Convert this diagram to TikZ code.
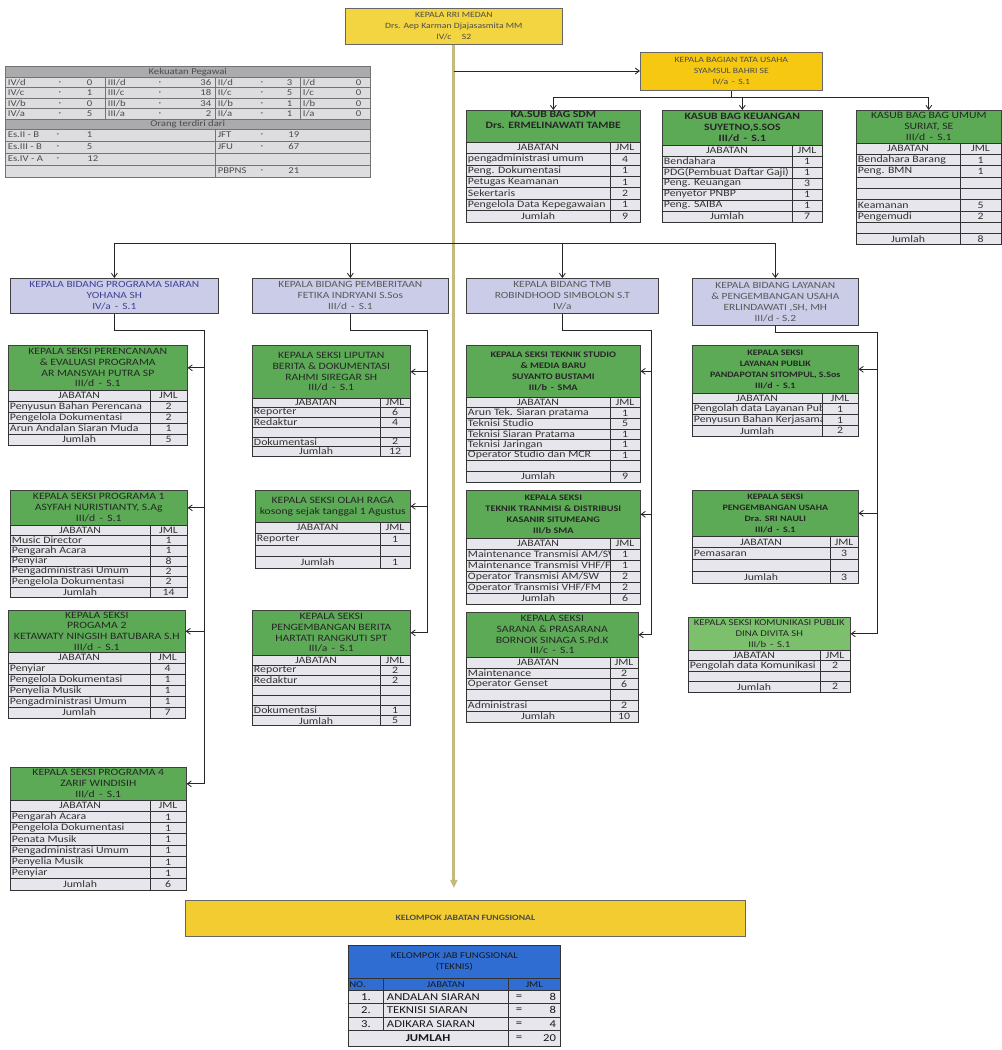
\documentclass[tikz,border=0pt]{standalone}
\usepackage{fontspec}
\setmainfont{Carlito}[FakeStretch=1.2]
\usetikzlibrary{arrows.meta}
\definecolor{topyel}{HTML}{F2D540}
\definecolor{tuyel}{HTML}{F6C812}
\definecolor{kjfyel}{HTML}{F2CC30}
\definecolor{hgreen}{HTML}{5CAA56}
\definecolor{hgreenlt}{HTML}{7CC06E}
\definecolor{divlav}{HTML}{CACCE8}
\definecolor{rowgray}{HTML}{E6E6EC}
\definecolor{kgray}{HTML}{DDDDE0}
\definecolor{khdr}{HTML}{ABABAE}
\definecolor{mainln}{HTML}{C4BA7C}
\definecolor{blueh}{HTML}{2F6DD3}
\def\pxu{0.3mm}
\newcommand\hdrfont{\fontsize{8.3}{9.2}\selectfont}
\newcommand\cellfont{\fontsize{8.4}{9}\selectfont}
\newcommand\kpfont{\fontsize{7.6}{8.5}\selectfont}
\newcommand\yfont{\fontsize{6.9}{9.4}\selectfont}
\newcommand\divfont{\fontsize{8.1}{9.3}\selectfont}
\newcommand\blfont{\fontsize{9}{10}\selectfont}
\newcommand\blhfont{\fontsize{7.6}{9}\selectfont}
\def\hdrcol{hgreen}
\def\hdrbf{}
\tikzset{
 hdrbox/.style={draw=black!75, line width=0.5pt, fill=\hdrcol, align=center, font={\hdrfont\hdrbf}, text=black!85, inner sep=0pt},
 rowbox/.style={draw=black!80, line width=0.5pt, fill=rowgray},
 celltxt/.style={font=\cellfont, text=black!80, inner sep=1.5pt},
 divbox/.style={draw=black!75, line width=0.6pt, fill=divlav, align=center, font=\divfont, text=black!65, inner sep=0pt},
 ybox/.style={draw=black!60, line width=0.6pt, align=center, font=\yfont, text=black!70, inner sep=0pt},
 conn/.style={draw=black!85, line width=0.7pt},
 arr/.style={conn, -{Straight Barb[length=3.5pt,width=5pt]}},
 mainline/.style={draw=mainln, line width=2.4pt, -{Triangle[length=7pt,width=6pt]}},
 ktab/.style={draw=black!55, line width=0.4pt, fill=kgray},
 ktxt/.style={font=\kpfont, text=black!70, inner sep=0.5pt},
 khead/.style={draw=black!55, line width=0.4pt, fill=khdr, font=\kpfont, text=black!70, inner sep=0pt},
 bcell/.style={draw=black!80, line width=0.5pt, font=\blhfont, text=black!90, inner sep=0pt},
 btxt/.style={font=\blfont, text=black!90, inner sep=1.5pt},
}
% #1 name #2 x0 #3 x1 #4 xsplit #5 ytop #6 header bottom #7 header text #8 rows #9 jumlah
\newcommand\sekbox[9]{%
  \node[hdrbox, minimum width={(#3-#2)*\pxu}, minimum height={(#6-#5)*\pxu}, anchor=north west] (#1) at (#2,#5) {#7};
  \draw[rowbox] (#2,#6) rectangle (#4,{#6+\rh}) (#4,#6) rectangle (#3,{#6+\rh});
  \node[celltxt] (#1-jab) at ({(#2+#4)/2},{#6+\rh/2}) {JABATAN};
  \node[celltxt] (#1-jml) at ({(#4+#3)/2},{#6+\rh/2}) {JML};
  \foreach \lab/\val [count=\i] in {#8}{%
    \draw[rowbox] (#2,{#6+\i*\rh}) rectangle (#4,{#6+(\i+1)*\rh});
    \node[celltxt, anchor=west] (#1-l\i) at (#2,{#6+(\i+0.5)*\rh}) {\lab};
    \draw[rowbox] (#4,{#6+\i*\rh}) rectangle (#3,{#6+(\i+1)*\rh});
    \node[celltxt] (#1-v\i) at ({(#4+#3)/2},{#6+(\i+0.5)*\rh}) {\val};
    \xdef\nrows{\i}%
  }%
  \pgfmathsetmacro\jy{#6+(\nrows+1)*\rh}%
  \draw[rowbox] (#2,\jy) rectangle (#4,{\jy+\rh}) (#4,\jy) rectangle (#3,{\jy+\rh});
  \node[celltxt] (#1-jl) at ({(#2+#4)/2},{\jy+\rh/2}) {Jumlah};
  \node[celltxt] (#1-jv) at ({(#4+#3)/2},{\jy+\rh/2}) {#9};
}
% #1 name #2 x0 #3 x1 #4 y0 #5 y1 #6 label #7 comma x #8 value right x #9 value
\newcommand\kcell[9]{%
  \draw[ktab] (#2,#4) rectangle (#3,#5);
  \node[ktxt, anchor=west] (#1-a) at (#2+2,{(#4+#5)/2}) {#6};
  \if\relax\detokenize{#7}\relax\else\node[ktxt] (#1-b) at (#7,{(#4+#5)/2}) {,};\fi
  \node[ktxt, anchor=east] (#1-c) at (#8,{(#4+#5)/2}) {#9};
}
\begin{document}
\begin{tikzpicture}[x=0.3mm,y=-0.3mm]
\fill[white] (0,0) rectangle (1002,1050);
\useasboundingbox (0,0) rectangle (1002,1050);

% ---------- top and bottom boxes ----------
\node[ybox, fill=topyel, minimum width=217*\pxu, minimum height=36*\pxu, anchor=north west] (kepala) at (345,8)
  {KEPALA RRI MEDAN\\Drs. Aep Karman Djajasasmita MM\\IV/c \quad S2};
\node[ybox, fill=kjfyel, minimum width=560*\pxu, minimum height=36*\pxu, anchor=north west, font=\yfont\bfseries] (kjf) at (185,900)
  {KELOMPOK JABATAN FUNGSIONAL};
\draw[mainline, shorten >=12*\pxu] (kepala.south) -- (kepala.south |- kjf.north);

\node[ybox, fill=tuyel, minimum width=182*\pxu, minimum height=38*\pxu, anchor=north west] (tu) at (640,52)
  {KEPALA BAGIAN TATA USAHA\\SYAMSUL BAHRI SE\\IV/a \,-\, S.1};

% ---------- Kekuatan Pegawai table ----------
\node[khead, minimum width=365*\pxu, minimum height=11*\pxu, anchor=north west] (kp-h1) at (5,66) {Kekuatan Pegawai};
\kcell{k11}{5}{105}{77}{87.5}{IV/d}{60}{93}{0}
\kcell{k12}{105}{215}{77}{87.5}{III/d}{160}{212}{36}
\kcell{k13}{215}{300}{77}{87.5}{II/d}{262}{293}{3}
\kcell{k14}{300}{370}{77}{87.5}{I/d}{}{362}{0}
\kcell{k21}{5}{105}{87.5}{98}{IV/c}{60}{93}{1}
\kcell{k22}{105}{215}{87.5}{98}{III/c}{160}{212}{18}
\kcell{k23}{215}{300}{87.5}{98}{II/c}{262}{293}{5}
\kcell{k24}{300}{370}{87.5}{98}{I/c}{}{362}{0}
\kcell{k31}{5}{105}{98}{108.5}{IV/b}{60}{93}{0}
\kcell{k32}{105}{215}{98}{108.5}{III/b}{160}{212}{34}
\kcell{k33}{215}{300}{98}{108.5}{II/b}{262}{293}{1}
\kcell{k34}{300}{370}{98}{108.5}{I/b}{}{362}{0}
\kcell{k41}{5}{105}{108.5}{119}{IV/a}{60}{93}{5}
\kcell{k42}{105}{215}{108.5}{119}{III/a}{160}{212}{2}
\kcell{k43}{215}{300}{108.5}{119}{II/a}{262}{293}{1}
\kcell{k44}{300}{370}{108.5}{119}{I/a}{}{362}{0}
\node[khead, minimum width=365*\pxu, minimum height=10*\pxu, anchor=north west] (kp-h2) at (5,119) {Orang terdiri dari};
\kcell{k51}{5}{215}{129}{141}{Es.II - B}{58}{93}{1}
\kcell{k52}{215}{370}{129}{141}{JFT}{262}{300}{19}
\kcell{k61}{5}{215}{141}{153}{Es.III - B}{58}{93}{5}
\kcell{k62}{215}{370}{141}{153}{JFU}{262}{300}{67}
\kcell{k71}{5}{215}{153}{165}{Es.IV - A}{58}{99}{12}
\kcell{k72}{215}{370}{153}{165}{}{}{300}{}
\kcell{k81}{5}{215}{165}{177}{}{}{93}{}
\kcell{k82}{215}{370}{165}{177}{PBPNS}{262}{300}{21}

% ---------- Tata Usaha sub-sections ----------
\def\hdrbf{\bfseries}
\def\rh{11.4}
\sekbox{sdm}{466}{640}{610}{110}{142}{KA.SUB BAG SDM\\Drs. ERMELINAWATI TAMBE\\[2pt]}{pengadministrasi umum/4, Peng. Dokumentasi/1, Petugas Keamanan/1, Sekertaris/2, Pengelola Data Kepegawaian/1}{9}
\def\rh{11}
\sekbox{keu}{662}{822}{792}{110}{145}{KASUB BAG KEUANGAN\\SUYETNO,S.SOS\\III/d \,-\, S.1}{Bendahara/1, PDG(Pembuat Daftar Gaji)/1, Peng. Keuangan/3, Penyetor PNBP/1, Peng. SAIBA/1}{7}
\def\hdrbf{}
\def\rh{11.3}
\sekbox{umum}{856}{1001}{960}{110}{143}{KASUB BAG BAG UMUM\\SURIAT, SE\\III/d \,-\, S.1}{Bendahara Barang/1, Peng. BMN/1, {}/{}, {}/{}, Keamanan/5, Pengemudi/2, {}/{}}{8}

% ---------- division heads ----------
\node[divbox, text=blue!45!black!75, minimum width=208*\pxu, minimum height=35*\pxu, anchor=north west] (d1) at (10,278)
  {KEPALA BIDANG PROGRAMA SIARAN\\YOHANA SH\\IV/a \,-\, S.1};
\node[divbox, minimum width=196*\pxu, minimum height=35*\pxu, anchor=north west] (d2) at (252,278)
  {KEPALA BIDANG PEMBERITAAN\\FETIKA INDRYANI S.Sos\\III/d \,-\, S.1};
\node[divbox, minimum width=192*\pxu, minimum height=35*\pxu, anchor=north west] (d3) at (466,278)
  {KEPALA BIDANG TMB\\ROBINDHOOD SIMBOLON S.T\\IV/a};
\node[divbox, minimum width=166*\pxu, minimum height=47*\pxu, anchor=north west] (d4) at (692,278)
  {KEPALA BIDANG LAYANAN\\\& PENGEMBANGAN USAHA\\ERLINDAWATI ,SH, MH\\III/d - S.2};

% ---------- sections: Programa Siaran ----------
\def\rh{11}
\sekbox{l1}{8}{187}{150}{345}{390}{KEPALA SEKSI PERENCANAAN\\\& EVALUASI PROGRAMA\\AR MANSYAH PUTRA SP\\III/d \,-\, S.1}{Penyusun Bahan Perencana/2, Pengelola Dokumentasi/2, Arun Andalan Siaran Muda/1}{5}
\def\rh{10.3}
\sekbox{l2}{10}{187}{150}{490}{525}{KEPALA SEKSI PROGRAMA 1\\ASYFAH NURISTIANTY, S.Ag\\III/d \,-\, S.1}{Music Director/1, Pengarah Acara/1, Penyiar/8, Pengadministrasi Umum/2, Pengelola Dokumentasi/2}{14}
\def\rh{11}
\sekbox{l3}{8}{185}{150}{610}{652}{KEPALA SEKSI\\PROGAMA 2\\KETAWATY NINGSIH BATUBARA S.H\\III/d \,-\, S.1}{Penyiar/4, Pengelola Dokumentasi/1, Penyelia Musik/1, Pengadministrasi Umum/1}{7}
\def\rh{11.25}
\sekbox{l4}{10}{186}{150}{767}{800}{KEPALA SEKSI PROGRAMA 4\\ZARIF WINDISIH\\III/d \,-\, S.1}{Pengarah Acara/1, Pengelola Dokumentasi/1, Penata Musik/1, Pengadministrasi Umum/1, Penyelia Musik/1, Penyiar/1}{6}

% ---------- sections: Pemberitaan ----------
\def\rh{9.7}
\sekbox{m1}{252}{410}{380}{345}{398}{KEPALA SEKSI LIPUTAN\\BERITA \& DOKUMENTASI\\RAHMI SIREGAR SH\\III/d \,-\, S.1}{Reporter/6, Redaktur/4, {}/{}, Dokumentasi/2}{12}
\def\rh{11.5}
\sekbox{m2}{255}{410}{380}{490}{522}{KEPALA SEKSI OLAH RAGA\\kosong sejak tanggal 1 Agustus}{Reporter/1, {}/{}}{1}
\def\rh{10.1}
\sekbox{m3}{252}{410}{380}{610}{655}{KEPALA SEKSI\\PENGEMBANGAN BERITA\\HARTATI RANGKUTI SPT\\III/a \,-\, S.1}{Reporter/2, Redaktur/2, {}/{}, {}/{}, Dokumentasi/1}{5}

% ---------- sections: TMB ----------
\def\hdrbf{\bfseries\fontsize{7.3}{9.2}\selectfont}
\def\rh{10.6}
\sekbox{r1}{466}{640}{610}{345}{397}{KEPALA SEKSI TEKNIK STUDIO\\\& MEDIA BARU\\SUYANTO BUSTAMI\\III/b \,-\, SMA}{Arun Tek. Siaran pratama/1, Teknisi Studio/5, Teknisi Siaran Pratama/1, Teknisi Jaringan/1, Operator Studio dan MCR/1, {}/{}}{9}
\def\rh{11}
\sekbox{r2}{466}{640}{610}{490}{538}{KEPALA SEKSI\\TEKNIK TRANMISI \& DISTRIBUSI\\KASANIR SITUMEANG\\III/b SMA}{{Maintenance Transmisi AM/SW}/1, {Maintenance Transmisi VHF/FM}/1, {Operator Transmisi AM/SW}/2, {Operator Transmisi VHF/FM}/2}{6}
\def\hdrbf{}
\def\rh{10.8}
\sekbox{r3}{466}{638}{610}{612}{657}{KEPALA SEKSI\\SARANA \& PRASARANA\\BORNOK SINAGA S.Pd.K\\III/c \,-\, S.1}{Maintenance/2, Operator Genset/6, {}/{}, Administrasi/2}{10}

% ---------- sections: Layanan & Pengembangan Usaha ----------
\def\hdrbf{\bfseries\fontsize{7.1}{9.2}\selectfont}
\def\rh{10.75}
\sekbox{f1}{692}{858}{822}{345}{393}{KEPALA SEKSI\\LAYANAN PUBLIK\\PANDAPOTAN SITOMPUL, S.Sos\\III/d \,-\, S.1}{Pengolah data Layanan Publik/1, Penyusun Bahan Kerjasama/1}{2}
\def\rh{11.75}
\sekbox{f2}{692}{858}{830}{490}{536}{KEPALA SEKSI\\PENGEMBANGAN USAHA\\Dra. SRI NAULI\\III/d \,-\, S.1}{Pemasaran/3, {}/{}}{3}
\def\hdrbf{\fontsize{7.6}{9}\selectfont}
\def\hdrcol{hgreenlt}
\def\rh{10.5}
\sekbox{f3}{688}{850}{820}{617}{650}{KEPALA SEKSI KOMUNIKASI PUBLIK\\DINA DIVITA SH\\III/b \,-\, S.1}{Pengolah data Komunikasi/2, {}/{}}{2}
\def\hdrcol{hgreen}
\def\hdrbf{}

% ---------- Kelompok Jab Fungsional table ----------
\node[bcell, fill=blueh, align=center, minimum width=212*\pxu, minimum height=33*\pxu, anchor=north west] (kjt) at (348,945)
  {KELOMPOK JAB FUNGSIONAL\\(TEKNIS)};
\node[bcell, fill=blueh, minimum width=35*\pxu, minimum height=12*\pxu, anchor=north west, text width=33*\pxu] (kjt-no) at (348,978) {NO.};
\node[bcell, fill=blueh, minimum width=125*\pxu, minimum height=12*\pxu, anchor=north west] (kjt-jab) at (383,978) {JABATAN};
\node[bcell, fill=blueh, minimum width=52*\pxu, minimum height=12*\pxu, anchor=north west] (kjt-jml) at (508,978) {JML};
\foreach \n/\lab/\v [count=\i] in {1./ANDALAN SIARAN/8, 2./TEKNISI SIARAN/8, 3./ADIKARA SIARAN/4}{
  \pgfmathsetmacro\by{990+(\i-1)*13.5}
  \draw[rowbox] (348,\by) rectangle (383,{\by+13.5}) (383,\by) rectangle (508,{\by+13.5}) (508,\by) rectangle (560,{\by+13.5});
  \node[btxt] (kjt-n\i) at (366,{\by+6.75}) {\n};
  \node[btxt, anchor=west] (kjt-l\i) at (385,{\by+6.75}) {\lab};
  \node[btxt] (kjt-e\i) at (519,{\by+6.75}) {=};
  \node[btxt, anchor=east] (kjt-v\i) at (558,{\by+6.75}) {\v};
}
\draw[rowbox] (348,1030.5) rectangle (508,1046) (508,1030.5) rectangle (560,1046);
\node[btxt, font=\blfont\bfseries] (kjt-jl) at (428,1038.25) {JUMLAH};
\node[btxt] (kjt-je) at (519,1038.25) {=};
\node[btxt, anchor=east] (kjt-jv) at (558,1038.25) {20};

% ---------- connectors ----------
\coordinate (j1) at (453.5,71);
\draw[arr] (j1) -- (j1 -| tu.west);
\coordinate (j2) at (tu.south |- 0,97);
\draw[conn] (tu.south) -- (j2);
\draw[arr] (j2) -| (sdm.north);
\draw[arr] (j2) -| (keu.north);
\draw[arr] (j2) -| (umum.north);

\coordinate (j3) at (453.5,243);
\draw[arr] (j3) -| (d1.north);
\draw[arr] (j3) -| (d2.north);
\draw[arr] (j3) -| (d3.north);
\draw[arr] (j3) -| (d4.north);

\coordinate (v1) at (204,330);
\draw[conn] (d1.south) |- (v1);
\draw[arr] (v1) |- (l1.east);
\draw[arr] (v1) |- (l2.east);
\draw[arr] (v1) |- (l3.east);
\draw[arr] (v1) |- (l4.east);

\coordinate (v2) at (427,330);
\draw[conn] (d2.south) |- (v2);
\draw[arr] (v2) |- (m1.east);
\draw[arr] (v2) |- (m2.east);
\draw[arr] (v2) |- (m3.east);

\coordinate (v3) at (651,330);
\draw[conn] (d3.south) |- (v3);
\draw[arr] (v3) |- (r1.east);
\draw[arr] (v3) |- (r2.east);
\draw[arr] (v3) |- (r3.east);

\coordinate (v4) at (877,332);
\draw[conn] (d4.south) |- (v4);
\draw[arr] (v4) |- (f1.east);
\draw[arr] (v4) |- (f2.east);
\draw[arr] (v4) |- (f3.east);
\end{tikzpicture}
\end{document}
